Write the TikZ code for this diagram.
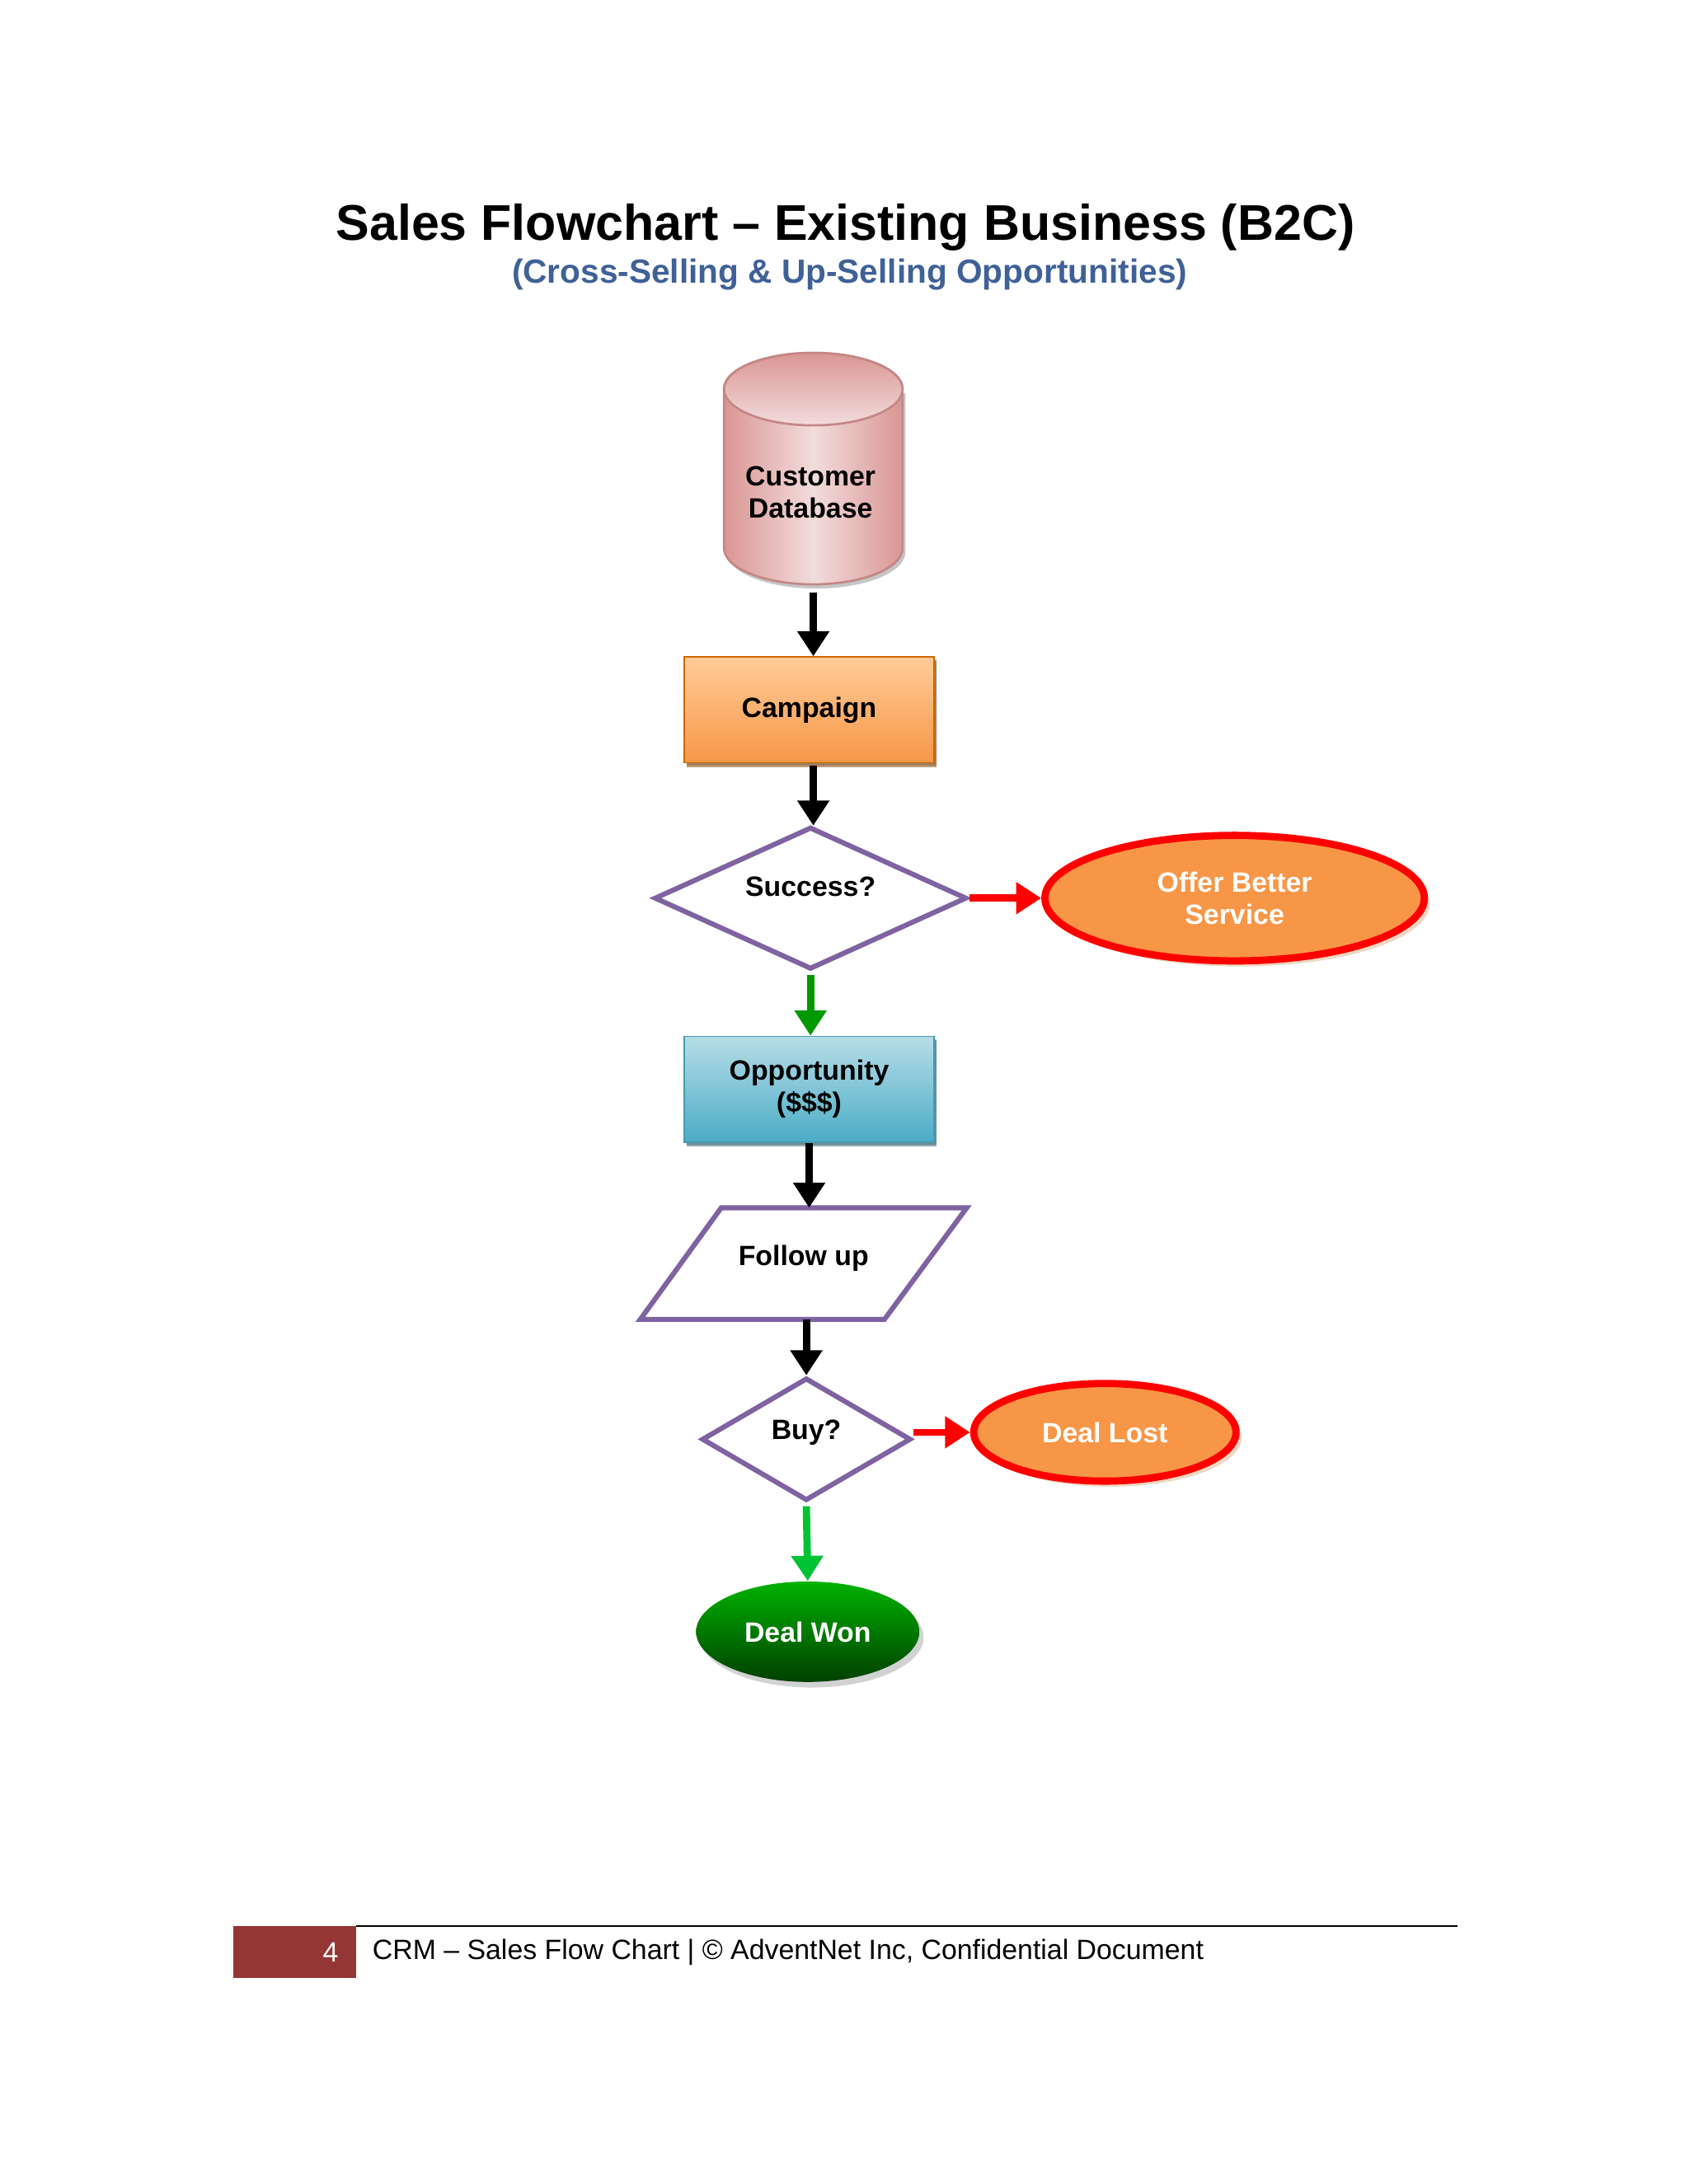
\documentclass[tikz,border=0pt]{standalone}
\usepackage{fontspec}
\setmainfont{Liberation Sans}
\usetikzlibrary{shapes.geometric,arrows.meta,shadows}
\definecolor{lavb}{HTML}{7F63A1}
\definecolor{orng}{HTML}{F79646}
\definecolor{ftred}{HTML}{943634}
\definecolor{teal1}{HTML}{B7DDE8}
\definecolor{teal2}{HTML}{4BACC6}
\definecolor{pk1}{HTML}{F2DCDB}
\definecolor{pk2}{HTML}{D99694}
\begin{document}
\begin{tikzpicture}[x=0.5pt,y=-0.5pt,
  arr/.style={line width=2.6pt,-{Triangle[length=9pt,width=11pt]}},
  lbl/.style={font=\bfseries\fontsize{10}{11.5}\selectfont,align=center},
  dia/.style={diamond,draw=lavb,line width=1.8pt,fill=white,aspect=2.2,inner sep=0pt},
  oval/.style={ellipse,draw=red,line width=2.6pt,fill=orng,text=white,lbl,drop shadow={shadow xshift=2pt,shadow yshift=-2pt,fill=brown!60}},
  box/.style={minimum width=89.5pt,minimum height=38pt,lbl,drop shadow={shadow xshift=1pt,shadow yshift=-1pt}}]
\useasboundingbox (0,0) rectangle (1211,1566);
\node[font=\bfseries\fontsize{18}{20}\selectfont] (t) at (606,163) {Sales Flowchart – Existing Business (B2C)};
\node[font=\bfseries\fontsize{12}{14}\selectfont,text={rgb,255:red,63;green,97;blue,151}] (st) at (609,197) {(Cross-Selling \& Up-Selling Opportunities)};
% cylinder drawn directly
\fill[gray!45] (521,282) -- (521,396) arc[start angle=180,end angle=0,x radius=64,y radius=26] -- (649,282) -- cycle;
\shade[left color=pk2,right color=pk2,middle color=pk1,draw=pk2!90!black,line width=0.8pt] (519,279) -- (519,393) arc[start angle=180,end angle=0,x radius=64,y radius=26] -- (647,279) arc[start angle=0,end angle=-180,x radius=64,y radius=26] -- cycle;
\shade[top color=pk2,bottom color=pk1,draw=pk2!90!black,line width=0.8pt] (583,279) ellipse[x radius=64,y radius=26];
\node[lbl] (db) at (581,353) {Customer\\Database};
\coordinate (dbb) at (583,425);
\node[box,draw=orange!80!black,top color=orange!40!white,bottom color=orng,drop shadow={shadow xshift=1pt,shadow yshift=-1.5pt,fill=orange!50!black}] (camp) at (580,509) {Campaign};
\node[dia,minimum width=112pt,minimum height=51pt] (succ) at (581,644) {};
\node[lbl] at (581,636) {Success?};
\node[oval,minimum width=136pt,minimum height=45pt] (offer) at (885,644) {Offer Better\\Service};
\node[box,draw=teal2!90!black,top color=teal1,bottom color=teal2,drop shadow={shadow xshift=1pt,shadow yshift=-1.5pt,fill=teal2!50!black}] (opp) at (580,781) {Opportunity\\(\$\$\$)};
\coordinate (fun) at (580,866);
\coordinate (fus) at (578,946);
\draw[lavb,line width=1.8pt,fill=white] (517,866) -- (693,866) -- (634,946) -- (459,946) -- cycle;
\node[lbl] (ful) at (576,902) {Follow up};
\node[dia,minimum width=75pt,minimum height=44pt] (buy) at (578,1032) {};
\node[lbl] at (578,1027) {Buy?};
\node[oval,minimum width=94pt,minimum height=35pt] (lost) at (792,1027) {Deal Lost};
\node[ellipse,minimum width=80pt,minimum height=36pt,top color=green!70!black,bottom color=green!25!black,text=white,lbl,drop shadow={shadow xshift=1.5pt,shadow yshift=-2pt,fill=gray!70}] (won) at (579,1170) {Deal Won};
\draw[arr] (dbb) -- (dbb |- camp.north);
\draw[arr] (583,549) -- (583,592);
\draw[arr,red] (succ.east) -- (offer.west);
\draw[arr,green!60!black] (581,699) -- (opp.north -| 581,0);
\draw[arr] (opp.south) -- (fun);
\draw[arr] (fus) -- (buy.north);
\draw[arr,red] (buy.east |- lost.west) -- (lost.west);
\draw[arr,green!70!black!80!cyan] (578,1080) -- (won.north);
% footer
\fill[ftred] (167,1381) rectangle (255,1418);
\node[text=white,font=\fontsize{10}{12}\selectfont] (pg) at (237,1400) {4};
\draw[line width=0.6pt] (255,1381) -- (1045,1381);
\node[anchor=west,font=\fontsize{10}{12}\selectfont] (ft) at (260,1400) {CRM – Sales Flow Chart | © AdventNet Inc, Confidential Document};
\end{tikzpicture}
\end{document}
